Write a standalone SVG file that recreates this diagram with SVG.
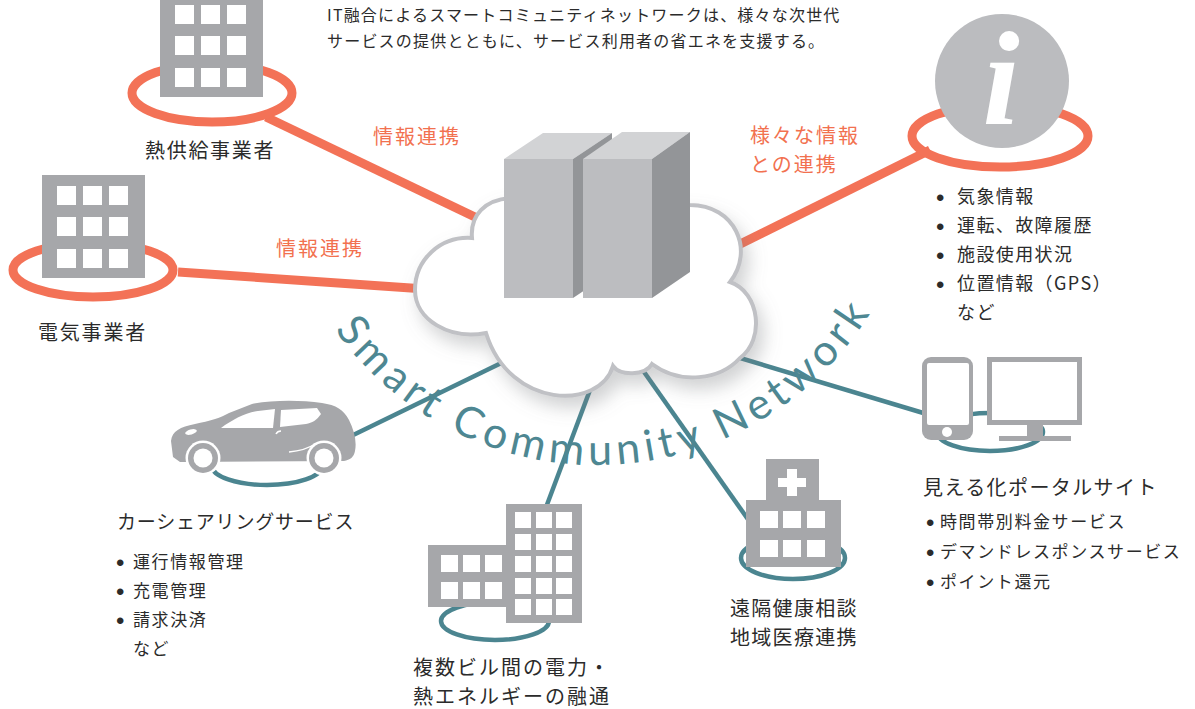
<svg xmlns="http://www.w3.org/2000/svg" xmlns:xlink="http://www.w3.org/1999/xlink" width="1195" height="709" viewBox="0 0 1195 709">
  <style>
    .jp { font-family: "Noto Sans CJK JP", "Noto Sans", sans-serif; fill: #2b2b2b; }
    .lbl { font-size: 20px; }
    .sm { font-size: 17px; letter-spacing: 1.6px; }
    .info { font-size: 18px; letter-spacing: 1.4px; }
    .or { fill: #f2714f; font-size: 20px; letter-spacing: 2px; }
    .dot { font-family: "Liberation Sans", sans-serif; font-size: 24px; fill: #2b2b2b; letter-spacing: 0; }
    .orline { stroke: #f37257; stroke-width: 9; fill: none; }
    .teal { stroke: #4b8590; stroke-width: 4.5; fill: none; }
    .gray { fill: #a6a7aa; }
    .win { fill: #ffffff; }
  </style>
  <defs>
    <filter id="cloudShadow" x="-20%" y="-20%" width="150%" height="160%">
      <feDropShadow dx="6" dy="10" stdDeviation="9" flood-color="#7a7c80" flood-opacity="0.35"/>
    </filter>
    <!-- office block: 103x103 with a 3x3 window grid -->
    <g id="office">
      <rect x="0" y="0" width="103" height="103" class="gray"/>
      <rect x="15" y="11" width="19" height="19" class="win"/>
      <rect x="41" y="11" width="19" height="19" class="win"/>
      <rect x="67" y="11" width="19" height="19" class="win"/>
      <rect x="15" y="42" width="19" height="19" class="win"/>
      <rect x="41" y="42" width="19" height="19" class="win"/>
      <rect x="67" y="42" width="19" height="19" class="win"/>
      <rect x="15" y="74" width="19" height="19" class="win"/>
      <rect x="41" y="74" width="19" height="19" class="win"/>
      <rect x="67" y="74" width="19" height="19" class="win"/>
    </g>
    <path id="arcPath" d="M 279.9,198.9 A 322 322 0 0 0 914.1,198.9"/>
  </defs>

  <rect width="1195" height="709" fill="#ffffff"/>

  <!-- heading -->
  <g id="heading" class="jp" font-size="16" letter-spacing="1.2">
    <text x="327" y="21">IT融合によるスマートコミュニティネットワークは、様々な次世代</text>
    <text x="327" y="47">サービスの提供とともに、サービス利用者の省エネを支援する。</text>
  </g>

  <!-- connectors -->
  <g id="connectors">
    <line class="orline" x1="266" y1="117" x2="500" y2="229"/>
    <line class="orline" x1="178" y1="272" x2="440" y2="290"/>
    <line class="orline" x1="930" y1="150" x2="720" y2="254"/>
    <line class="teal" x1="345" y1="439" x2="520" y2="354"/>
    <line class="teal" x1="605" y1="350" x2="545" y2="510"/>
    <line class="teal" x1="625" y1="345" x2="752" y2="525"/>
    <line class="teal" x1="700" y1="346" x2="940" y2="418"/>
  </g>

  <!-- heat supplier -->
  <g id="heat-supplier">
    <ellipse class="orline" cx="212" cy="93" rx="80" ry="29"/>
    <use xlink:href="#office" x="160" y="-6"/>
    <text class="jp lbl" x="145" y="158" letter-spacing="1.7">熱供給事業者</text>
  </g>

  <!-- electric utility -->
  <g id="electric-utility">
    <ellipse class="orline" cx="93" cy="270" rx="80" ry="27"/>
    <use xlink:href="#office" x="42" y="175"/>
    <text class="jp lbl" x="38" y="340" letter-spacing="1.8">電気事業者</text>
  </g>

  <!-- link labels -->
  <g id="link-labels" class="jp">
    <text class="or" x="373" y="144">情報連携</text>
    <text class="or" x="276" y="256">情報連携</text>
    <text class="or" x="750" y="143" letter-spacing="2.4">様々な情報</text>
    <text class="or" x="750" y="172" letter-spacing="2.4">との連携</text>
  </g>

  <!-- information source -->
  <g id="information">
    <ellipse class="orline" cx="1000" cy="136" rx="88" ry="31"/>
    <circle cx="1002" cy="81" r="67" fill="#bbbcbf"/>
    <text x="1001" y="124" text-anchor="middle" font-family="Liberation Serif, serif" font-style="italic" font-weight="bold" font-size="134" fill="#ffffff">i</text>
    <g class="jp info">
      <text class="dot" x="936" y="206">•</text>
      <text x="957" y="203">気象情報</text>
      <text class="dot" x="936" y="235">•</text>
      <text x="957" y="232">運転、故障履歴</text>
      <text class="dot" x="936" y="264">•</text>
      <text x="957" y="261">施設使用状況</text>
      <text class="dot" x="936" y="293">•</text>
      <text x="957" y="290">位置情報（GPS）</text>
      <text x="957" y="319">など</text>
    </g>
  </g>

  <!-- car sharing -->
  <g id="car-sharing">
    <ellipse class="teal" cx="267" cy="466" rx="55" ry="19"/>
    <path class="gray" d="M 173,457 L 171,441 C 172,431 180,427 195,424 C 210,421 220,418 229,413 L 252,404 C 272,400 300,400 322,403 C 336,405 344,410 349,420 C 354,430 357,441 355,451 C 354,457 350,460 344,461 L 180,462 Z"/>
    <path class="win" d="M 221,428 C 232,420 245,413 258,411 L 275,409 L 273,428 Z"/>
    <path class="win" d="M 281,410 L 317,408 L 321,414 C 317,420 312,423 306,424 L 280,427 Z"/>
    <ellipse class="win" cx="191" cy="432" rx="6" ry="2.5" transform="rotate(-15 191 432)"/>
    <path d="M 289,452 C 300,451 309,448 315,444" stroke="#ffffff" stroke-width="1.5" fill="none"/>
    <path d="M 276,434 C 277,432 279,431 281,431" stroke="#ffffff" stroke-width="1.5" fill="none"/>
    <circle cx="203" cy="458" r="17.5" fill="#ffffff"/>
    <circle cx="203" cy="458" r="15" class="gray"/>
    <circle cx="203" cy="458" r="9.5" fill="#ffffff"/>
    <circle cx="324" cy="458" r="17.5" fill="#ffffff"/>
    <circle cx="324" cy="458" r="15" class="gray"/>
    <circle cx="324" cy="458" r="9.5" fill="#ffffff"/>
    <text class="jp" x="117" y="529" font-size="19" letter-spacing="0.8">カーシェアリングサービス</text>
    <g class="jp sm">
      <text class="dot" x="116" y="571">•</text>
      <text x="133" y="568">運行情報管理</text>
      <text class="dot" x="116" y="600">•</text>
      <text x="133" y="597">充電管理</text>
      <text class="dot" x="116" y="629">•</text>
      <text x="133" y="626">請求決済</text>
      <text x="133" y="655">など</text>
    </g>
  </g>

  <!-- multi-building energy sharing -->
  <g id="multi-building">
    <ellipse class="teal" cx="495" cy="621" rx="54" ry="19"/>
    <rect x="428" y="545" width="80" height="62" class="gray"/>
    <rect x="441" y="555" width="17" height="17" class="win"/>
    <rect x="463" y="555" width="17" height="17" class="win"/>
    <rect x="485" y="555" width="17" height="17" class="win"/>
    <rect x="441" y="582" width="17" height="17" class="win"/>
    <rect x="463" y="582" width="17" height="17" class="win"/>
    <rect x="485" y="582" width="17" height="17" class="win"/>
    <rect x="506" y="504" width="76" height="119" class="gray"/>
    <g class="win">
      <rect x="515" y="512" width="16" height="16"/><rect x="536" y="512" width="16" height="16"/><rect x="556" y="512" width="16" height="16"/>
      <rect x="515" y="534" width="16" height="16"/><rect x="536" y="534" width="16" height="16"/><rect x="556" y="534" width="16" height="16"/>
      <rect x="515" y="556" width="16" height="16"/><rect x="536" y="556" width="16" height="16"/><rect x="556" y="556" width="16" height="16"/>
      <rect x="515" y="578" width="16" height="16"/><rect x="536" y="578" width="16" height="16"/><rect x="556" y="578" width="16" height="16"/>
      <rect x="515" y="599" width="16" height="16"/><rect x="536" y="599" width="16" height="16"/><rect x="556" y="599" width="16" height="16"/>
    </g>
    <text class="jp lbl" x="413" y="675" letter-spacing="2">複数ビル間の電力・</text>
    <text class="jp lbl" x="413" y="704" letter-spacing="2">熱エネルギーの融通</text>
  </g>

  <!-- remote healthcare -->
  <g id="healthcare">
    <ellipse class="teal" cx="793" cy="558" rx="52" ry="21"/>
    <rect x="766" y="459" width="53" height="42" class="gray"/>
    <rect x="746" y="500" width="95" height="67" class="gray"/>
    <rect x="778" y="478" width="28" height="9" class="win"/>
    <rect x="787" y="469" width="10" height="27" class="win"/>
    <rect x="760" y="511" width="18" height="17" class="win"/>
    <rect x="783" y="511" width="18" height="17" class="win"/>
    <rect x="807" y="511" width="18" height="17" class="win"/>
    <rect x="760" y="540" width="18" height="17" class="win"/>
    <rect x="783" y="540" width="18" height="17" class="win"/>
    <rect x="807" y="540" width="18" height="17" class="win"/>
    <text class="jp lbl" x="730" y="616" letter-spacing="1.3">遠隔健康相談</text>
    <text class="jp lbl" x="730" y="645" letter-spacing="1.3">地域医療連携</text>
  </g>

  <!-- visualisation portal -->
  <g id="portal">
    <ellipse class="teal" cx="990" cy="432" rx="53" ry="19"/>
    <rect x="922" y="357" width="51" height="83" rx="9" class="gray"/>
    <rect x="927" y="363" width="42" height="62" rx="2" class="win"/>
    <circle cx="947" cy="432" r="5" class="win"/>
    <rect x="987" y="357" width="95" height="68" class="gray"/>
    <rect x="992" y="362" width="85" height="58" class="win"/>
    <rect x="1027" y="424" width="16" height="13" class="gray"/>
    <rect x="999" y="436" width="72" height="5" class="gray"/>
    <text class="jp lbl" x="923" y="495" letter-spacing="1.4">見える化ポータルサイト</text>
    <g class="jp sm">
      <text class="dot" x="926" y="531">•</text>
      <text x="940" y="528">時間帯別料金サービス</text>
      <text class="dot" x="926" y="561">•</text>
      <text x="940" y="558">デマンドレスポンスサービス</text>
      <text class="dot" x="926" y="591">•</text>
      <text x="940" y="588">ポイント還元</text>
    </g>
  </g>

  <!-- network cloud with servers -->
  <g id="cloud">
    <path d="M 486,333 C 450,340 415,320 415,290 C 415,260 440,236 472,238 C 470,215 485,200 510,198 L 690,205 C 735,205 755,250 730,282 C 760,292 765,340 740,358 C 720,380 680,385 652,364 C 645,376 620,376 613,366 C 600,410 510,410 486,333 Z" fill="#ffffff" stroke="#c0c1c5" stroke-width="4" filter="url(#cloudShadow)"/>
  </g>
  <g id="servers">
    <polygon points="504,159 573,159 612,133 543,133" fill="#d2d3d5"/>
    <polygon points="573,159 612,133 612,272 573,298" fill="#939598"/>
    <rect x="504" y="159" width="69" height="139" fill="#bcbdc0"/>
    <polygon points="583,159 652,159 690,132 622,132" fill="#d2d3d5"/>
    <polygon points="652,159 690,132 690,272 652,298" fill="#939598"/>
    <rect x="583" y="159" width="69" height="139" fill="#bcbdc0"/>
  </g>

  <!-- curved network title -->
  <g id="network-title">
    <text font-family="Lato, 'Liberation Sans', sans-serif" font-weight="400" font-size="43" fill="#4e8792">
      <textPath xlink:href="#arcPath" startOffset="143" textLength="632" lengthAdjust="spacing">Smart Community Network</textPath>
    </text>
  </g>
</svg>
